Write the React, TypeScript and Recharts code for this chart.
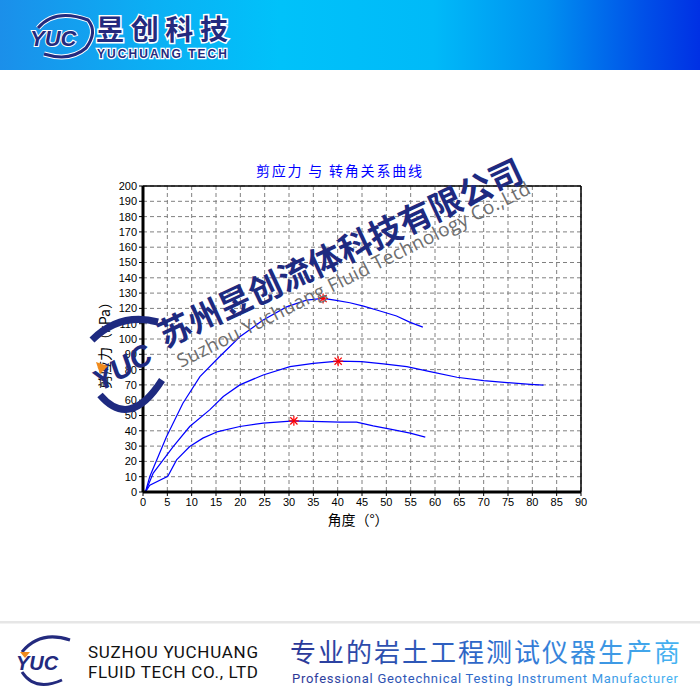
import { ComposedChart, Line, Scatter, XAxis, YAxis, CartesianGrid, ReferenceLine } from 'recharts';

// tick labels
const xTicks = [0, 5, 10, 15, 20, 25, 30, 35, 40, 45, 50, 55, 60, 65, 70, 75, 80, 85, 90];
const yTicks = [0, 10, 20, 30, 40, 50, 60, 70, 80, 90, 100, 110, 120, 130, 140, 150, 160, 170, 180, 190, 200];
const xMinor = Array.from({ length: 91 }, (_, i) => i);
const yMinor = Array.from({ length: 101 }, (_, i) => i * 2);

// curve 1 (highest)
const upperAngle = [0.5, 1.4, 4.8, 8.2, 11.7, 15.4, 19.9, 24.7, 29.5, 33.6, 37, 39.4, 42.5, 45.3, 48.7, 52.1, 54.9, 57.5];
const upperStress = [0, 10.2, 36, 58, 75.4, 87.4, 101.5, 112.4, 121, 125.4, 126.5, 125.4, 123.7, 121.5, 118.3, 115, 110.9, 107.8];

// curve 2
const midAngle = [0.5, 2.1, 6.2, 9.6, 13.7, 16.5, 19.9, 24.7, 30.2, 35, 40.1, 44.9, 49.4, 54.2, 59, 64.5, 70, 74.8, 79.6, 82.3];
const midStress = [0, 12.4, 29.7, 42.8, 53.7, 62.4, 70, 76.5, 81.9, 84.1, 85.5, 85.2, 83.7, 81.9, 78.7, 75, 72.8, 71.5, 70.4, 69.8];

// curve 3 (lowest)
const lowAngle = [0.5, 1.4, 5.1, 6.9, 9.6, 12.3, 15.4, 19.9, 24.7, 31, 40.5, 43.9, 47.3, 50.8, 54.9, 58];
const lowStress = [0, 4.5, 10.2, 21, 29.7, 35.2, 39.5, 42.8, 45, 46.5, 45.7, 45.7, 43.2, 41.1, 38.5, 35.9];

// peak markers
const peakAngle = [37, 40.1, 31];
const peakStress = [126.5, 85.5, 46.5];

const zip = (xs: number[], ys: number[]) => xs.map((x, i) => ({ x, y: ys[i] }));

const Star = (props: any) => {
    const { cx, cy } = props;
    const r = 5;
    const d = 3.6;
    return (
        <g stroke="#ff0000" strokeWidth={1.2}>
            <line x1={cx - r} y1={cy} x2={cx + r} y2={cy} />
            <line x1={cx} y1={cy - r} x2={cx} y2={cy + r} />
            <line x1={cx - d} y1={cy - d} x2={cx + d} y2={cy + d} />
            <line x1={cx - d} y1={cy + d} x2={cx + d} y2={cy - d} />
        </g>
    );
};

const tickStyle = { fontSize: 11, fill: '#000', fontFamily: 'Liberation Sans, Arial, sans-serif' };
const cjk = '"Noto Sans CJK SC", sans-serif';

export default function App() {
    return (
        <div style={{ position: 'absolute', left: 0, top: 0, width: 700, height: 700, background: '#fff', overflow: 'hidden' }}>
            <div
                style={{
                    position: 'absolute', left: 0, top: 0, width: 700, height: 70,
                    background: 'linear-gradient(90deg, #1b8fea 0%, #0bb0f4 22%, #00c2fa 40%, #00baf8 62%, #0090f0 78%, #0050e8 92%, #0030e4 100%)',
                }}
            />
            <div style={{ position: 'absolute', left: 0, top: 0 }}>
                <ComposedChart width={700} height={700} margin={{ top: 186, right: 119, left: 103, bottom: 178 }}>
                    <CartesianGrid xAxisId="main" yAxisId="main" stroke="#808080" strokeDasharray="4 3" />
                    <XAxis xAxisId="minor" type="number" dataKey="x" domain={[0, 90]} ticks={xMinor} interval={0} height={0}
                        tick={false} axisLine={false} tickSize={3} tickLine={{ stroke: '#000' }} />
                    <XAxis xAxisId="main" type="number" dataKey="x" domain={[0, 90]} ticks={xTicks} interval={0} height={30}
                        tick={tickStyle} tickSize={4} tickLine={{ stroke: '#000' }} axisLine={{ stroke: '#000', strokeWidth: 3 }} />
                    <YAxis yAxisId="minor" type="number" domain={[0, 200]} ticks={yMinor} interval={0} width={0}
                        tick={false} axisLine={false} tickSize={3} tickLine={{ stroke: '#000' }} />
                    <YAxis yAxisId="main" type="number" domain={[0, 200]} ticks={yTicks} interval={0} width={40}
                        tick={tickStyle} tickSize={4} tickLine={{ stroke: '#000' }} axisLine={{ stroke: '#000', strokeWidth: 3 }} />
                    <ReferenceLine xAxisId="main" yAxisId="main" y={200} stroke="#000" strokeWidth={1.5} />
                    <ReferenceLine xAxisId="main" yAxisId="main" x={90} stroke="#000" strokeWidth={1.5} />
                    <Line xAxisId="main" yAxisId="main" data={zip(upperAngle, upperStress)} dataKey="y" type="linear"
                        stroke="#0000ff" strokeWidth={1.2} dot={false} isAnimationActive={false} />
                    <Line xAxisId="main" yAxisId="main" data={zip(midAngle, midStress)} dataKey="y" type="linear"
                        stroke="#0000ff" strokeWidth={1.2} dot={false} isAnimationActive={false} />
                    <Line xAxisId="main" yAxisId="main" data={zip(lowAngle, lowStress)} dataKey="y" type="linear"
                        stroke="#0000ff" strokeWidth={1.2} dot={false} isAnimationActive={false} />
                    <Scatter xAxisId="main" yAxisId="main" data={zip(peakAngle, peakStress)} dataKey="y" shape={Star} isAnimationActive={false} />
                </ComposedChart>
            </div>
            <svg width={700} height={700} style={{ position: 'absolute', left: 0, top: 0, pointerEvents: 'none' }}>
                <defs>
                    <linearGradient id="footGrad" x1="0" y1="0" x2="1" y2="0">
                        <stop offset="0%" stopColor="#2b3796" />
                        <stop offset="55%" stopColor="#2f6fd0" />
                        <stop offset="100%" stopColor="#46b4f2" />
                    </linearGradient>
                </defs>

                {/* header logo */}
                <path d="M38 28 Q 55 8 88 20 Q 98 32 86 48 Q 70 62 44 54" fill="none" stroke="#fff" strokeWidth={5} />
                <path d="M38 28 Q 55 8 88 20 Q 98 32 86 48 Q 70 62 44 54" fill="none" stroke="#232a7e" strokeWidth={3} />
                <text x={30} y={46} fontSize={22} fontWeight="bold" fontStyle="italic" fill="#232a7e" stroke="#fff" strokeWidth={2}
                    paintOrder="stroke" fontFamily="Liberation Sans, Arial, sans-serif">YUC</text>
                <text x={96} y={40} fontSize={28} fontWeight="bold" fill="#232a7e" stroke="#fff" strokeWidth={3}
                    paintOrder="stroke" fontFamily={cjk} textLength={132}>昱创科技</text>
                <text x={97} y={58} fontSize={12} fontWeight="bold" fill="#232a7e" stroke="#fff" strokeWidth={2.5}
                    paintOrder="stroke" fontFamily="Liberation Sans, Arial, sans-serif" textLength={130}>YUCHUANG TECH</text>

                {/* title and axis labels */}
                <text x={256} y={176} fontSize={14} fill="#0000ff" fontFamily={cjk} textLength={166}>剪应力 与 转角关系曲线</text>
                <text x={358} y={525} fontSize={14} fill="#000" fontFamily={cjk} textAnchor="middle">角度（°）</text>
                <text transform="translate(110 342) rotate(-90)" fontSize={14} fill="#000" fontFamily={cjk} textAnchor="middle">剪应力（kPa）</text>

                {/* watermark */}
                <path d="M92 340 Q 120 312 158 322" fill="none" stroke="#1e2a80" strokeWidth={7} />
                <path d="M100 395 Q 130 430 162 380" fill="none" stroke="#1e2a80" strokeWidth={7} />
                <text transform="translate(100 392) rotate(-30)" fontSize={30} fontWeight="bold" fontStyle="italic" fill="#1e2a80"
                    fontFamily="Liberation Sans, Arial, sans-serif">YUC</text>
                <polygon points="96,362 108,366 100,374" fill="#f08a1c" />
                <text transform="translate(165 348) rotate(-25)" fontSize={33} fontWeight="bold" fill="#1e2a80" fontFamily={cjk}
                    textLength={398}>苏州昱创流体科技有限公司</text>
                <text transform="translate(181 368) rotate(-26.5)" fontSize={19} fill="#6e6e6e" fontFamily="Open Sans, sans-serif"
                    textLength={392}>Suzhou Yuchuang Fluid Technology Co.,Ltd</text>

                {/* footer */}
                <rect x={0} y={621} width={700} height={2.5} fill="#e6e6e6" />
                <path d="M22 652 Q 40 630 70 640" fill="none" stroke="#232a7e" strokeWidth={3} />
                <path d="M22 672 Q 35 692 62 680" fill="none" stroke="#232a7e" strokeWidth={3} />
                <text x={16} y={670} fontSize={20} fontWeight="bold" fontStyle="italic" fill="#232a7e"
                    fontFamily="Liberation Sans, Arial, sans-serif">YUC</text>
                <polygon points="20,652 30,652 25,658" fill="#f08a1c" />
                <text x={88} y={658} fontSize={17} fill="#111" fontFamily="Roboto, sans-serif" textLength={170}>SUZHOU YUCHUANG</text>
                <text x={88} y={678} fontSize={17} fill="#111" fontFamily="Roboto, sans-serif" textLength={170}>FLUID TECH CO., LTD</text>
                <text x={290} y={662} fontSize={26} fill="url(#footGrad)" fontFamily={cjk} textLength={390}>专业的岩土工程测试仪器生产商</text>
                <text x={292} y={683} fontSize={13} fill="url(#footGrad)" fontFamily="Roboto, sans-serif" textLength={386}>Professional Geotechnical Testing Instrument Manufacturer</text>
            </svg>
        </div>
    );
}
